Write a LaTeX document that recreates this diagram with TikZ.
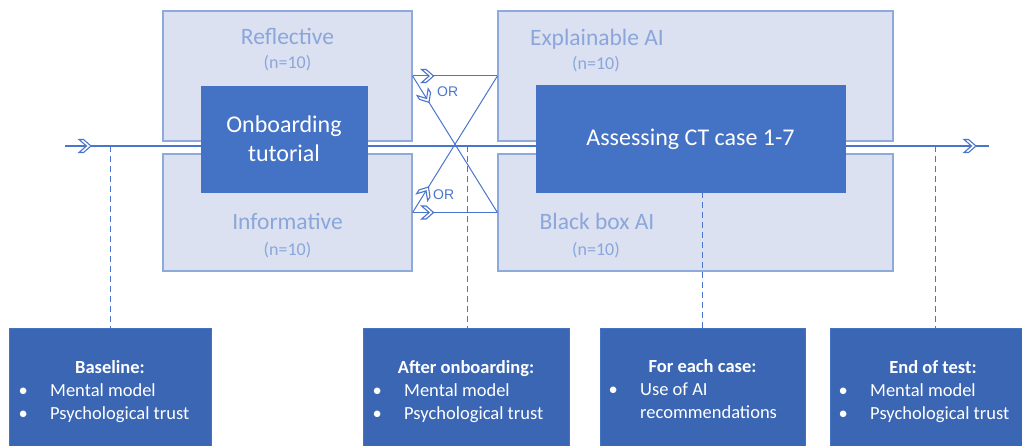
\documentclass[tikz,border=0pt]{standalone}
\usepackage{fontspec}
\setmainfont{Carlito}
\newfontfamily\orfont{Liberation Sans}
\usetikzlibrary{decorations.markings}
\definecolor{lightfill}{HTML}{DCE1F1}
\definecolor{lightline}{HTML}{8EAADB}
\definecolor{lighttext}{HTML}{8AA6DA}
\definecolor{darkfill}{HTML}{4472C4}
\definecolor{botfill}{HTML}{3A66B3}
\definecolor{linecol}{HTML}{4A75CC}
\newcommand{\chevmark}{\draw[linecol, line width=1.1pt, fill=white, line join=miter] (-7pt,6.5pt) -- (-2.5pt,6.5pt) -- (5pt,0pt) -- (-2.5pt,-6.5pt) -- (-7pt,-6.5pt) -- (0.5pt,0pt) -- cycle;}
\tikzset{
  lightbox/.style={draw=lightline, fill=lightfill, line width=1.2pt, inner sep=0pt},
  darkbox/.style={draw=darkfill, fill=darkfill, line width=0.8pt, inner sep=0pt},
  botbox/.style={draw=darkfill, fill=botfill, line width=0.8pt, inner sep=0pt, minimum height=132pt},
  flowline/.style={draw=linecol, line width=1.3pt},
  chevat/.style={postaction={decorate, decoration={markings, mark=at position #1 with {\chevmark}}}},
  dashline/.style={draw=linecol, line width=1pt, dash pattern=on 6pt off 4pt},
  biglabel/.style={font=\fontsize{23.5}{28}\selectfont, text=lighttext, anchor=base, inner sep=0pt},
  nlabel/.style={font=\fontsize{18}{22}\selectfont, text=lighttext, anchor=base, inner sep=0pt},
  darktext/.style={font=\fontsize{24}{28}\selectfont, text=white, anchor=base, inner sep=0pt},
  bottitle/.style={font=\fontsize{18.5}{23}\selectfont\bfseries, text=white, anchor=base, inner sep=0pt},
  botline/.style={font=\fontsize{18.5}{23}\selectfont, text=white, anchor=base west, inner sep=0pt},
  ortext/.style={font=\orfont\fontsize{14}{16}\selectfont, text=linecol, anchor=base west, inner sep=0pt},
}
\begin{document}
\begin{tikzpicture}[x=1pt, y=-1pt]
\useasboundingbox (0,0) rectangle (1022,446);
\clip (0,0) rectangle (1022,446);
% light group boxes
\node[lightbox, minimum width=249pt, minimum height=130pt] (refl) at (287.5,76) {};
\node[lightbox, minimum width=249pt, minimum height=117pt] (info) at (287.5,212.5) {};
\node[lightbox, minimum width=395pt, minimum height=130pt] (expl) at (695.5,76) {};
\node[lightbox, minimum width=395pt, minimum height=117pt] (bbox) at (695.5,212.5) {};
\node[biglabel] (reflT) at (287.5,45) {Reflective};
\node[nlabel] (reflN) at (287.5,69) {(n=10)};
\node[biglabel] (infoT) at (287.5,230) {Informative};
\node[nlabel] (infoN) at (287.5,255) {(n=10)};
\node[biglabel] (explT) at (597,46) {Explainable AI};
\node[nlabel] (explN) at (596,70) {(n=10)};
\node[biglabel] (bboxT) at (597,230) {Black box AI};
\node[nlabel] (bboxN) at (596,255) {(n=10)};
% main flow line
\coordinate (start) at (65,146);
\coordinate (finish) at (989,146);
\draw[flowline, chevat=21pt, chevat=-18pt] (start) -- (finish);
% dark step boxes
\node[darkbox, minimum width=166pt, minimum height=106pt] (onb) at (284,139) {};
\node[darktext] (onbT1) at (284,133) {Onboarding};
\node[darktext] (onbT2) at (284,162) {tutorial};
\node[darkbox, minimum width=309pt, minimum height=107pt] (ass) at (690.5,138.5) {};
\node[darktext] (assT) at (690.5,146) {Assessing CT case 1-7};
% OR crossing
\draw[flowline, line width=1pt, chevat=16pt] (refl.east) -- (expl.west);
\draw[flowline, line width=1pt, chevat=16pt] (info.east) -- (bbox.west);
\draw[flowline, line width=1pt, chevat=26pt] (refl.east) -- (bbox.west);
\draw[flowline, line width=1pt, chevat=25pt] (info.east) -- (expl.west);
\node[ortext] (or1) at (437,97) {OR};
\node[ortext] (or2) at (433,200) {OR};
% bottom measurement boxes
\node[botbox, minimum width=202pt] (base) at (110,394) {};
\node[botbox, minimum width=206pt] (after) at (466,394) {};
\node[botbox, minimum width=205pt] (each) at (702.5,394) {};
\node[botbox, minimum width=210pt] (endt) at (935,394) {};
\node[bottitle] (baseT) at (110,373) {Baseline:};
\node[botline] (baseL1) at (18.5,396) {\makebox[31.5pt][l]{•}Mental model};
\node[botline] (baseL2) at (18.5,419) {\makebox[31.5pt][l]{•}Psychological trust};
\node[bottitle] (afterT) at (466,373) {After onboarding:};
\node[botline] (afterL1) at (372.5,396) {\makebox[31.5pt][l]{•}Mental model};
\node[botline] (afterL2) at (372.5,419) {\makebox[31.5pt][l]{•}Psychological trust};
\node[bottitle] (eachT) at (702.5,372) {For each case:};
\node[botline] (eachL1) at (608.5,395) {\makebox[31.5pt][l]{•}Use of AI};
\node[botline] (eachL2) at (608.5,418) {\makebox[31.5pt][l]{}recommendations};
\node[bottitle] (endT) at (933,373) {End of test:};
\node[botline] (endL1) at (838.5,396) {\makebox[31.5pt][l]{•}Mental model};
\node[botline] (endL2) at (838.5,419) {\makebox[31.5pt][l]{•}Psychological trust};
% dashed taps
\coordinate (tapA) at (110,146);
\coordinate (tapB) at (467,146);
\coordinate (tapD) at (935,146);
\draw[dashline] (tapA) -- (base.north);
\draw[dashline] (tapB) -- (tapB |- after.north);
\draw[dashline] (ass.south -| each.north) -- (each.north);
\draw[dashline] (tapD) -- (endt.north);
\end{tikzpicture}
\end{document}
